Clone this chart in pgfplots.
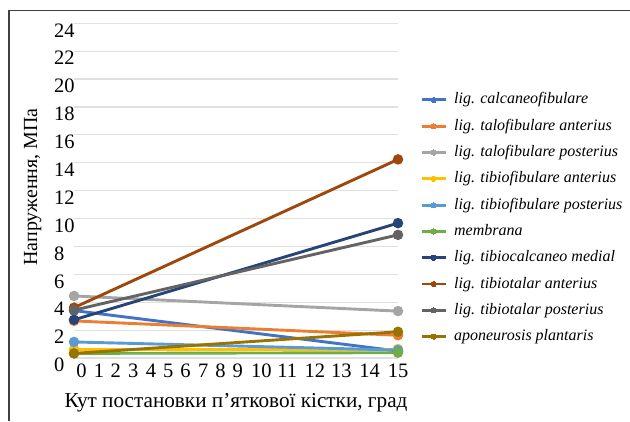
\documentclass[border=0pt]{standalone}
\usepackage{pgfplots}
\pgfplotsset{compat=1.18}
\usepackage{fontspec}
\setmainfont{Liberation Serif}
\definecolor{c1}{HTML}{4472C4}
\definecolor{c2}{HTML}{ED7D31}
\definecolor{c3}{HTML}{A5A5A5}
\definecolor{c4}{HTML}{FFC000}
\definecolor{c5}{HTML}{5B9BD5}
\definecolor{c6}{HTML}{70AD47}
\definecolor{c7}{HTML}{264478}
\definecolor{c8}{HTML}{9E480E}
\definecolor{c9}{HTML}{636363}
\definecolor{c10}{HTML}{997300}
\begin{document}
\begin{tikzpicture}[x=1pt,y=1pt]
\useasboundingbox (0,0) rectangle (630,421);
\draw[line width=1.5pt, black!75] (9,410.5) -- (630,410.5);
\draw[line width=1.5pt, black!75] (9,410.5) -- (9,0);
\begin{axis}[
  at={(74pt,63pt)}, anchor=origin,
  scale only axis, width=324pt, height=334.7pt,
  xmin=0, xmax=15, ymin=0, ymax=24,
  clip=false,
  axis line style={draw=none},
  ymajorgrids, grid style={line width=1.2pt, color=black!12},
  ytick={0,2,...,24},
  xtick={0.35,1.16,1.93,2.74,3.56,4.36,5.16,5.98,6.78,7.58,8.68,9.87,11.15,12.38,13.69,15},
  xticklabels={0,1,2,3,4,5,6,7,8,9,10,11,12,13,14,15},
  major tick length=0pt,
  /pgf/number format/assume math mode=true,
  tick label style={font=\fontsize{20.5}{20.5}\selectfont, inner sep=0pt},
  yticklabel style={anchor=north west, xshift=-20pt},
  xticklabel style={anchor=north, yshift=-6pt},
  xlabel={Кут постановки п’яткової кістки, град},
  ylabel={Напруження, МПа},
  label style={font=\fontsize{20}{20}\selectfont},
  xlabel style={at={(axis description cs:0.5,-0.149)}, anchor=base, font=\fontsize{21.2}{21.2}\selectfont},
  ylabel style={at={(axis description cs:-0.114,0.511)}, anchor=base},
  every axis plot/.append style={line width=2.9pt, mark=*, mark size=3.7pt},
  legend style={draw=none, fill=none, at={(axis description cs:1.068,0.794)}, anchor=north west,
    font=\fontsize{16}{16}\selectfont\itshape,
    nodes={inner sep=0pt, text height=11.5pt, text depth=3.5pt},
    row sep=11.3pt, inner sep=0pt},
  legend cell align=left,
  legend image code/.code={\draw[#1, mark=none, line width=2.9pt] (0pt,0pt) -- (24pt,0pt);
    \draw[#1, mark size=2.6pt, line width=0pt] plot coordinates {(12pt,0pt)};
    \path (31pt,0pt);},
]
\addplot[c1, mark options={fill=c1}] coordinates {(0,3.4) (15,0.5)};
\addlegendentry{lig. calcaneofibulare}
\addplot[c2, mark options={fill=c2}] coordinates {(0,2.66) (15,1.63)};
\addlegendentry{lig. talofibulare anterius}
\addplot[c3, mark options={fill=c3}] coordinates {(0,4.45) (15,3.36)};
\addlegendentry{lig. talofibulare posterius}
\addplot[c4, mark options={fill=c4}] coordinates {(0,0.64) (15,0.64)};
\addlegendentry{lig. tibiofibulare anterius}
\addplot[c5, mark options={fill=c5}] coordinates {(0,1.15) (15,0.57)};
\addlegendentry{lig. tibiofibulare posterius}
\addplot[c6, mark options={fill=c6}] coordinates {(0,0.33) (15,0.38)};
\addlegendentry{membrana}
\addplot[c7, mark options={fill=c7}] coordinates {(0,2.74) (15,9.67)};
\addlegendentry{lig. tibiocalcaneo medial}
\addplot[c8, mark options={fill=c8}] coordinates {(0,3.61) (15,14.24)};
\addlegendentry{lig. tibiotalar anterius}
\addplot[c9, mark options={fill=c9}] coordinates {(0,3.43) (15,8.83)};
\addlegendentry{lig. tibiotalar posterius}
\addplot[c10, mark options={fill=c10}] coordinates {(0,0.33) (15,1.88)};
\addlegendentry{aponeurosis plantaris}
\end{axis}
\end{tikzpicture}
\end{document}
